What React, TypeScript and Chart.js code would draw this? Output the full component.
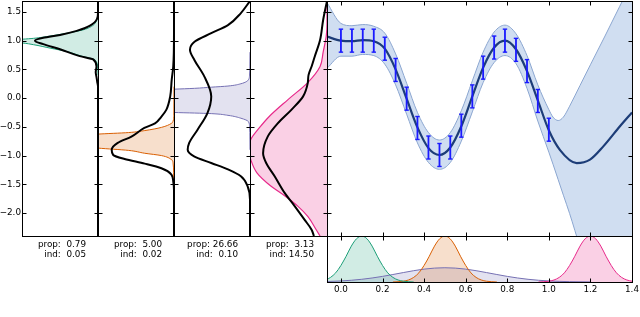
import React, { useEffect, useRef } from 'react';
import { Chart, registerables } from 'chart.js';

Chart.register(...registerables);

const W = 640;
const H = 317;
const FONT = "'DejaVu Sans', 'Liberation Sans', sans-serif";
const FONT_SIZE = 8.8;
Chart.defaults.font.family = FONT;

// ---------- shared axes ----------
const yMin = -2.4;
const yMax = 1.69;
const yTickValues = [-2.0, -1.5, -1.0, -0.5, 0.0, 0.5, 1.0, 1.5];
const xMin = -0.067;
const xMax = 1.4;
const xTickValues = [0.0, 0.2, 0.4, 0.6, 0.8, 1.0, 1.2, 1.4];

// ---------- panel statistics ----------
const propValues = [0.79, 5.0, 26.66, 3.13];
const indValues = [0.05, 0.02, 0.1, 14.5];

// ---------- left panels: densities (y value, width fraction measured from right edge) ----------
const p1GreenY = [1.6, 1.45, 1.36, 1.3, 1.27, 1.19, 1.13, 1.08, 1.04, 1.025, 1.0, 0.96, 0.93, 0.87, 0.81, 0.72, 0.68, 0.64, 0.55, 0.4];
const p1GreenD = [0, 0.004, 0.015, 0.04, 0.06, 0.19, 0.41, 0.63, 0.85, 1.0, 1.4, 1.0, 0.85, 0.63, 0.41, 0.19, 0.06, 0.025, 0.005, 0];
const p1BlackY = [1.69, 1.5, 1.39, 1.26, 1.17, 1.1, 1.05, 1.0, 0.94, 0.85, 0.73, 0.67, 0.55, 0.45, 0.37, 0.28, 0.2, 0.0, -2.4];
const p1BlackD = [0, 0, 0.01, 0.105, 0.28, 0.5, 0.72, 0.83, 0.72, 0.5, 0.24, 0.06, 0.02, 0.03, 0.02, 0.01, 0, 0, 0];

const p2OrangeY = [0.2, -0.3, -0.4, -0.44, -0.51, -0.565, -0.6, -0.627, -0.755, -0.87, -0.91, -0.96, -1.0, -1.07, -1.13, -1.3, -1.6, -1.8];
const p2OrangeD = [0, 0.002, 0.012, 0.034, 0.166, 0.385, 0.6, 1.0, 1.8, 1.0, 0.6, 0.385, 0.166, 0.034, 0.012, 0.005, 0.001, 0];
const p2BlackY = [1.69, 1.13, 0.55, 0.32, 0.03, -0.2, -0.33, -0.44, -0.52, -0.67, -0.78, -0.9, -0.99, -1.06, -1.14, -1.22, -1.33, -1.45, -1.6, -2.4];
const p2BlackD = [0, 0, 0.01, 0.03, 0.05, 0.1, 0.17, 0.25, 0.39, 0.56, 0.74, 0.82, 0.8, 0.65, 0.385, 0.166, 0.034, 0.01, 0, 0];

const p3PurpleY = [0.8, 0.5, 0.4, 0.32, 0.25, 0.21, 0.19, 0.17, 0.155, -0.05, -0.25, -0.26, -0.27, -0.3, -0.35, -0.41, -0.5, -0.6, -0.9];
const p3PurpleD = [0, 0.002, 0.006, 0.02, 0.12, 0.29, 0.51, 0.73, 1.0, 4.0, 1.0, 0.73, 0.51, 0.29, 0.12, 0.02, 0.006, 0.002, 0];
const p3BlackY = [1.69, 1.48, 1.27, 1.13, 0.98, 0.84, 0.66, 0.375, 0.03, -0.26, -0.55, -0.78, -0.9, -1.02, -1.13, -1.24, -1.36, -1.54, -1.77, -2.4];
const p3BlackD = [0, 0.12, 0.29, 0.51, 0.73, 0.79, 0.73, 0.6, 0.51, 0.56, 0.69, 0.8, 0.82, 0.73, 0.51, 0.29, 0.12, 0.03, 0, 0];

const p4PinkY = [1.69, 1.3, 1.08, 0.8, 0.55, 0.27, -0.03, -0.32, -0.52, -0.72, -0.9, -1.07, -1.3, -1.53, -1.7, -1.88, -2.06, -2.3, -2.4];
const p4PinkD = [0, 0, 0.01, 0.05, 0.09, 0.25, 0.51, 0.75, 0.88, 0.99, 1.02, 0.99, 0.91, 0.73, 0.55, 0.38, 0.25, 0.136, 0.09];
const p4BlackY = [1.69, 1.36, 1.01, 0.72, 0.55, 0.4, 0.26, 0.03, -0.2, -0.44, -0.67, -0.96, -1.13, -1.36, -1.65, -1.88, -2.12, -2.29, -2.4];
const p4BlackD = [0, 0.05, 0.09, 0.16, 0.2, 0.24, 0.25, 0.31, 0.46, 0.64, 0.77, 0.83, 0.79, 0.68, 0.55, 0.42, 0.29, 0.2, 0.17];

// ---------- main panel: observations, posterior mean and band ----------
const dataX = [0.0, 0.053, 0.105, 0.158, 0.211, 0.263, 0.316, 0.368, 0.421, 0.474, 0.526, 0.579, 0.632, 0.684, 0.737, 0.789, 0.842, 0.895, 0.947, 1.0];
const dataY = [1.0, 1.0, 1.0, 1.0, 0.86, 0.49, -0.01, -0.52, -0.86, -0.99, -0.86, -0.48, 0.03, 0.53, 0.88, 1.0, 0.84, 0.47, -0.05, -0.55];
const dataErr = [0.2, 0.2, 0.2, 0.2, 0.2, 0.2, 0.2, 0.2, 0.2, 0.2, 0.2, 0.2, 0.2, 0.2, 0.2, 0.2, 0.2, 0.2, 0.2, 0.2];

const meanX = [-0.067, 0.0, 0.053, 0.105, 0.158, 0.211, 0.263, 0.316, 0.368, 0.421, 0.474, 0.526, 0.579, 0.632, 0.684, 0.737, 0.789, 0.842, 0.895, 0.947, 1.0, 1.053, 1.134, 1.198, 1.262, 1.342, 1.4];
const meanY = [1.07, 1.0, 0.99, 1.01, 0.99, 0.86, 0.5, -0.01, -0.51, -0.87, -0.99, -0.86, -0.49, 0.03, 0.53, 0.88, 1.0, 0.85, 0.47, -0.04, -0.56, -0.9, -1.13, -1.07, -0.84, -0.49, -0.25];

const bandX = [-0.067, 0.0, 0.053, 0.105, 0.158, 0.211, 0.263, 0.316, 0.368, 0.421, 0.474, 0.526, 0.579, 0.632, 0.684, 0.737, 0.789, 0.842, 0.895, 0.947, 1.0, 1.02, 1.045, 1.07, 1.1, 1.15, 1.2, 1.27, 1.34, 1.4];
const bandUpper = [1.66, 1.3, 1.26, 1.28, 1.25, 1.13, 0.77, 0.26, -0.25, -0.6, -0.73, -0.6, -0.22, 0.3, 0.8, 1.15, 1.27, 1.12, 0.74, 0.23, -0.2, -0.33, -0.39, -0.33, -0.14, 0.22, 0.58, 1.08, 1.59, 2.02];
const bandLower = [0.52, 0.73, 0.73, 0.76, 0.74, 0.59, 0.23, -0.28, -0.78, -1.12, -1.24, -1.12, -0.75, -0.24, 0.27, 0.62, 0.74, 0.6, 0.17, -0.4, -0.94, -1.15, -1.42, -1.69, -2.01, -2.6, -3.2, -3.8, -4.3, -4.6];

// ---------- bottom panel: input densities ----------
const greenX = [-0.067, -0.05, -0.025, 0.0, 0.025, 0.05, 0.075, 0.1, 0.125, 0.15, 0.175, 0.2, 0.225, 0.25, 0.275, 0.3, 0.325, 0.35];
const greenY = [0.058, 0.1, 0.2, 0.36, 0.56, 0.78, 0.94, 1.0, 0.94, 0.78, 0.56, 0.36, 0.2, 0.1, 0.044, 0.017, 0.006, 0];
const orangeX = [0.25, 0.275, 0.3, 0.325, 0.35, 0.375, 0.4, 0.425, 0.45, 0.475, 0.5, 0.525, 0.55, 0.575, 0.6, 0.625, 0.65, 0.675, 0.7, 0.725, 0.75];
const orangeY = [0, 0.006, 0.017, 0.044, 0.1, 0.2, 0.36, 0.56, 0.78, 0.94, 1.0, 0.94, 0.78, 0.56, 0.36, 0.2, 0.1, 0.044, 0.017, 0.006, 0];
const pinkX = [0.95, 0.975, 1.0, 1.025, 1.05, 1.075, 1.1, 1.125, 1.15, 1.175, 1.2, 1.225, 1.25, 1.275, 1.3, 1.325, 1.35, 1.375, 1.4];
const pinkY = [0, 0.006, 0.017, 0.044, 0.1, 0.2, 0.36, 0.56, 0.78, 0.94, 1.0, 0.94, 0.78, 0.56, 0.36, 0.2, 0.1, 0.044, 0.017];
const purpleX = [-0.067, 0.0, 0.05, 0.1, 0.15, 0.2, 0.25, 0.3, 0.35, 0.4, 0.45, 0.5, 0.55, 0.6, 0.65, 0.7, 0.75, 0.8, 0.85, 0.9, 0.95, 1.0, 1.05, 1.1, 1.2];
const purpleY = [0.011, 0.023, 0.038, 0.059, 0.087, 0.122, 0.163, 0.205, 0.246, 0.28, 0.302, 0.31, 0.302, 0.28, 0.246, 0.205, 0.163, 0.122, 0.087, 0.059, 0.038, 0.023, 0.014, 0.0075, 0.002];

// ---------- styling ----------
const GREEN = '#1b9e77';
const ORANGE = '#d95f02';
const PURPLE = '#7570b3';
const PINK = '#e7298a';
const GREEN_F = 'rgba(27,158,119,0.2)';
const ORANGE_F = 'rgba(217,95,2,0.2)';
const PURPLE_F = 'rgba(117,112,179,0.2)';
const PINK_F = 'rgba(231,41,138,0.22)';
const ERR = '#1a1aff';
const MEAN = '#1d3d78';
const BAND_LINE = '#8ba6d0';
const BAND_FILL = 'rgba(120,160,215,0.35)';

const PANEL_EDGES = [22, 98, 174, 250, 327];
const MAIN_RIGHT = 632;
const TOP = 1;
const BOTTOM = 236;
const LOWER_BOTTOM = 282;

const fmtTick = (v: number) => (v < -1e-9 ? '\u2212' : '') + Math.abs(v).toFixed(1);
const fmtStat = (v: number) => v.toFixed(2).padStart(5, ' ');

const framePlugin = {
  id: 'frame',
  afterDraw(chart: any, _args: any, opts: any) {
    const { ctx, chartArea: a, scales } = chart;
    const L = Math.floor(a.left) + 0.5;
    const R = Math.floor(a.right) + 0.5;
    const T = Math.floor(a.top) + 0.5;
    const B = Math.floor(a.bottom) + 0.5;
    const len = 4;
    ctx.save();
    ctx.strokeStyle = '#000';
    ctx.lineWidth = 1;
    ctx.strokeRect(L, T, R - L, B - T);
    ctx.beginPath();
    if (opts.xTicks) {
      for (const v of opts.xTicks) {
        const px = Math.round(scales.x.getPixelForValue(v)) + 0.5;
        ctx.moveTo(px, T);
        ctx.lineTo(px, T + len);
        ctx.moveTo(px, B);
        ctx.lineTo(px, B - len);
      }
    }
    if (opts.yTicks) {
      for (const v of opts.yTicks) {
        const py = Math.round(scales.y.getPixelForValue(v)) + 0.5;
        ctx.moveTo(L, py);
        ctx.lineTo(L + len, py);
        ctx.moveTo(R, py);
        ctx.lineTo(R - len, py);
      }
    }
    ctx.stroke();
    if (opts.lines) {
      ctx.fillStyle = '#000';
      ctx.font = `${FONT_SIZE}px ${FONT}`;
      ctx.textAlign = 'right';
      ctx.textBaseline = 'alphabetic';
      opts.lines.forEach((t: string, i: number) => {
        ctx.fillText(t, a.left + 64, 247 + i * 10);
      });
    }
    ctx.restore();
  },
};

const baseOptions = {
  animation: false,
  responsive: false,
  devicePixelRatio: 1,
  events: [],
};

const hiddenAxis = (min: number, max: number, extra: any = {}) => ({
  type: 'linear',
  min,
  max,
  display: false,
  ...extra,
});

type Curve = { y: number[]; d: number[]; color: string; fill: string | null; width: number };

const panelCurves: Curve[][] = [
  [
    { y: p1BlackY, d: p1BlackD, color: '#000', fill: null, width: 2 },
    { y: p1GreenY, d: p1GreenD, color: GREEN, fill: GREEN_F, width: 1 },
  ],
  [
    { y: p2BlackY, d: p2BlackD, color: '#000', fill: null, width: 2 },
    { y: p2OrangeY, d: p2OrangeD, color: ORANGE, fill: ORANGE_F, width: 1 },
  ],
  [
    { y: p3BlackY, d: p3BlackD, color: '#000', fill: null, width: 2 },
    { y: p3PurpleY, d: p3PurpleD, color: PURPLE, fill: PURPLE_F, width: 1 },
  ],
  [
    { y: p4BlackY, d: p4BlackD, color: '#000', fill: null, width: 2 },
    { y: p4PinkY, d: p4PinkD, color: PINK, fill: PINK_F, width: 1.2 },
  ],
];

function leftPanelConfig(k: number): any {
  const left = PANEL_EDGES[k];
  const right = PANEL_EDGES[k + 1];
  const first = k === 0;
  const datasets = panelCurves[k].map((c) => ({
    data: c.y.map((y, i) => ({ x: c.d[i], y })),
    borderColor: c.color,
    borderWidth: c.width,
    backgroundColor: c.fill ?? 'rgba(0,0,0,0)',
    fill: c.fill ? { value: 0 } : false,
    pointRadius: 0,
    cubicInterpolationMode: 'monotone',
  }));
  const yAxis = first
    ? {
        type: 'linear',
        min: yMin,
        max: yMax,
        position: 'left',
        display: true,
        grid: { display: false, drawTicks: false, tickLength: 0 },
        border: { display: false },
        ticks: {
          color: '#000',
          font: { family: FONT, size: FONT_SIZE },
          padding: 1,
          autoSkip: false,
          callback: (v: any) => fmtTick(Number(v)),
        },
        afterBuildTicks: (s: any) => {
          s.ticks = yTickValues.map((value) => ({ value }));
        },
        afterFit: (s: any) => {
          s.width = 22;
          s.paddingTop = 0;
          s.paddingBottom = 0;
          s.paddingLeft = 0;
          s.paddingRight = 0;
        },
      }
    : hiddenAxis(yMin, yMax);
  return {
    type: 'line',
    data: { datasets },
    options: {
      ...baseOptions,
      indexAxis: 'y',
      layout: {
        autoPadding: false,
        padding: { left: first ? 0 : left, top: TOP, right: W - right, bottom: H - BOTTOM },
      },
      plugins: {
        legend: { display: false },
        tooltip: { enabled: false },
        filler: { drawTime: 'beforeDatasetsDraw' },
        frame: {
          yTicks: yTickValues,
          lines: [`prop: ${fmtStat(propValues[k])}`, `ind: ${fmtStat(indValues[k])}`],
        },
      },
      scales: {
        x: hiddenAxis(0, 1, { reverse: true }),
        y: yAxis,
      },
    },
    plugins: [framePlugin],
  };
}

function mainConfig(): any {
  const errSegments = dataX.flatMap((x, i) => [
    { x, y: dataY[i] - dataErr[i] },
    { x, y: dataY[i] + dataErr[i] },
    { x, y: null },
  ]);
  const errCaps = dataX.flatMap((x, i) => [
    { x, y: dataY[i] - dataErr[i] },
    { x, y: dataY[i] + dataErr[i] },
  ]);
  const pts = (xs: number[], ys: number[]) => xs.map((x, i) => ({ x, y: ys[i] }));
  return {
    type: 'line',
    data: {
      datasets: [
        { data: errSegments, borderColor: ERR, borderWidth: 1.8, pointRadius: 0, spanGaps: false, fill: false, tension: 0 },
        {
          data: errCaps,
          showLine: false,
          pointStyle: 'line',
          pointRadius: 2.2,
          pointBorderWidth: 1.4,
          pointBorderColor: ERR,
          borderColor: ERR,
          fill: false,
        },
        { data: pts(meanX, meanY), borderColor: MEAN, borderWidth: 2.2, pointRadius: 0, fill: false, cubicInterpolationMode: 'monotone' },
        {
          data: pts(bandX, bandUpper),
          borderColor: BAND_LINE,
          borderWidth: 1,
          pointRadius: 0,
          backgroundColor: BAND_FILL,
          fill: '+1',
          cubicInterpolationMode: 'monotone',
        },
        { data: pts(bandX, bandLower), borderColor: BAND_LINE, borderWidth: 1, pointRadius: 0, fill: false, cubicInterpolationMode: 'monotone' },
      ],
    },
    options: {
      ...baseOptions,
      layout: {
        autoPadding: false,
        padding: { left: PANEL_EDGES[4], top: TOP, right: W - MAIN_RIGHT, bottom: H - BOTTOM },
      },
      plugins: {
        legend: { display: false },
        tooltip: { enabled: false },
        filler: { drawTime: 'beforeDatasetsDraw' },
        frame: { xTicks: xTickValues, yTicks: yTickValues },
      },
      scales: {
        x: hiddenAxis(xMin, xMax),
        y: hiddenAxis(yMin, yMax),
      },
    },
    plugins: [framePlugin],
  };
}

function bottomConfig(): any {
  const mk = (xs: number[], ys: number[], color: string, fillColor: string, width = 1) => ({
    data: xs.map((x, i) => ({ x, y: ys[i] })),
    borderColor: color,
    borderWidth: width,
    backgroundColor: fillColor,
    fill: 'origin',
    pointRadius: 0,
    cubicInterpolationMode: 'monotone',
  });
  return {
    type: 'line',
    data: {
      datasets: [
        mk(greenX, greenY, GREEN, GREEN_F),
        mk(orangeX, orangeY, ORANGE, ORANGE_F),
        mk(pinkX, pinkY, PINK, PINK_F),
        mk(purpleX, purpleY, PURPLE, PURPLE_F),
      ],
    },
    options: {
      ...baseOptions,
      layout: {
        autoPadding: false,
        padding: { left: PANEL_EDGES[4], top: BOTTOM, right: W - MAIN_RIGHT, bottom: H - LOWER_BOTTOM - 20 },
      },
      plugins: {
        legend: { display: false },
        tooltip: { enabled: false },
        filler: { drawTime: 'beforeDatasetsDraw' },
        frame: { xTicks: xTickValues },
      },
      scales: {
        x: {
          type: 'linear',
          min: xMin,
          max: xMax,
          position: 'bottom',
          display: true,
          grid: { display: false, drawTicks: false, tickLength: 0 },
          border: { display: false },
          ticks: {
            color: '#000',
            font: { family: FONT, size: FONT_SIZE },
            padding: 2,
            autoSkip: false,
            maxRotation: 0,
            callback: (v: any) => fmtTick(Number(v)),
          },
          afterBuildTicks: (s: any) => {
            s.ticks = xTickValues.map((value) => ({ value }));
          },
          afterFit: (s: any) => {
            s.height = 20;
            s.paddingLeft = 0;
            s.paddingRight = 0;
            s.paddingTop = 0;
            s.paddingBottom = 0;
          },
        },
        y: hiddenAxis(0, 1),
      },
    },
    plugins: [framePlugin],
  };
}

function ChartLayer({ make }: { make: () => any }) {
  const ref = useRef<HTMLCanvasElement | null>(null);
  useEffect(() => {
    const chart = new Chart(ref.current as HTMLCanvasElement, make());
    return () => chart.destroy();
  }, []);
  return (
    <canvas
      ref={ref}
      width={W}
      height={H}
      style={{ position: 'absolute', left: 0, top: 0, width: W, height: H, pointerEvents: 'none' }}
    />
  );
}

export default function App() {
  useEffect(() => {
    document.body.style.margin = '0';
  }, []);
  return (
    <div style={{ position: 'fixed', left: 0, top: 0, width: W, height: H, background: '#fff', overflow: 'hidden' }}>
      <ChartLayer make={() => mainConfig()} />
      <ChartLayer make={() => bottomConfig()} />
      <ChartLayer make={() => leftPanelConfig(0)} />
      <ChartLayer make={() => leftPanelConfig(1)} />
      <ChartLayer make={() => leftPanelConfig(2)} />
      <ChartLayer make={() => leftPanelConfig(3)} />
    </div>
  );
}
